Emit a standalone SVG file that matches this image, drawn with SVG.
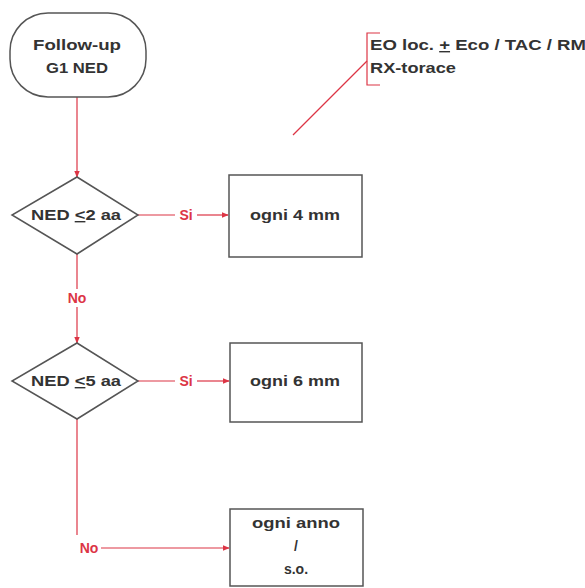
<svg xmlns="http://www.w3.org/2000/svg" width="585" height="588" viewBox="0 0 585 588">
<defs>
<marker id="ah" viewBox="0 0 10 10" refX="9" refY="5" markerWidth="7" markerHeight="7" orient="auto" markerUnits="userSpaceOnUse">
<path d="M0,1 L10,5 L0,9 z" fill="#dc3545"/>
</marker>
<style>
.shape{fill:#fff;stroke:#555;stroke-width:1.5}
.t{font-family:"Liberation Sans",Arial,sans-serif;font-weight:bold;font-size:14px;fill:#333;text-anchor:middle}
.r{font-family:"Liberation Sans",Arial,sans-serif;font-weight:bold;font-size:14px;fill:#dc3545;text-anchor:middle}
.c{fill:none;stroke:#dc3545;stroke-width:1.2}
</style>
</defs>
<rect width="585" height="588" fill="#fff"/>
<g id="connectors">
<line class="c" x1="77" y1="97" x2="77" y2="177" marker-end="url(#ah)"/>
<line class="c" x1="138" y1="215" x2="175" y2="215"/>
<line class="c" x1="197" y1="215" x2="228" y2="215" marker-end="url(#ah)"/>
<line class="c" x1="77" y1="254" x2="77" y2="289"/>
<text class="r" x="77" y="303">No</text>
<line class="c" x1="77" y1="307" x2="77" y2="343" marker-end="url(#ah)"/>
<line class="c" x1="138" y1="381" x2="175" y2="381"/>
<text class="r" x="186" y="386">Si</text>
<text class="r" x="186" y="220">Si</text>
<line class="c" x1="197" y1="381" x2="229" y2="381" marker-end="url(#ah)"/>
<line class="c" x1="77" y1="419" x2="77" y2="535"/>
<text class="r" x="89" y="553">No</text>
<line class="c" x1="101" y1="548" x2="229" y2="548" marker-end="url(#ah)"/>
<line class="c" x1="293" y1="135" x2="367" y2="61"/>
<path class="c" d="M380,33 H367 V85 H380"/>
</g>
<g id="start">
<rect class="shape" x="10" y="13" width="136" height="84" rx="38" ry="38"/>
<text class="t" x="77" y="50" textLength="88" lengthAdjust="spacingAndGlyphs">Follow-up</text>
<text class="t" x="77" y="73" textLength="62" lengthAdjust="spacingAndGlyphs">G1 NED</text>
</g>
<g id="dec1">
<polygon class="shape" points="77,177 138,215 77,254 12,215"/>
<text class="t" x="76" y="220" textLength="90" lengthAdjust="spacingAndGlyphs">NED <tspan text-decoration="underline">&lt;</tspan>2 aa</text>
</g>
<g id="box1">
<rect class="shape" x="229" y="175" width="133" height="82"/>
<text class="t" x="295" y="220" textLength="90" lengthAdjust="spacingAndGlyphs">ogni 4 mm</text>
</g>
<g id="dec2">
<polygon class="shape" points="77,343 138,381 77,419 12,381"/>
<text class="t" x="76" y="386" textLength="90" lengthAdjust="spacingAndGlyphs">NED <tspan text-decoration="underline">&lt;</tspan>5 aa</text>
</g>
<g id="box2">
<rect class="shape" x="230" y="343" width="132" height="79"/>
<text class="t" x="295" y="386" textLength="90" lengthAdjust="spacingAndGlyphs">ogni 6 mm</text>
</g>
<g id="box3">
<rect class="shape" x="230" y="509" width="133" height="77"/>
<text class="t" x="296" y="528" textLength="88" lengthAdjust="spacingAndGlyphs">ogni anno</text>
<text class="t" x="296" y="551">/</text>
<text class="t" x="296" y="574">s.o.</text>
</g>
<g id="note">
<text class="t" x="370" y="50" style="text-anchor:start" textLength="216" lengthAdjust="spacingAndGlyphs">EO loc. <tspan text-decoration="underline">+</tspan> Eco / TAC / RM</text>
<text class="t" x="370" y="73" style="text-anchor:start" textLength="86" lengthAdjust="spacingAndGlyphs">RX-torace</text>
</g>
</svg>
